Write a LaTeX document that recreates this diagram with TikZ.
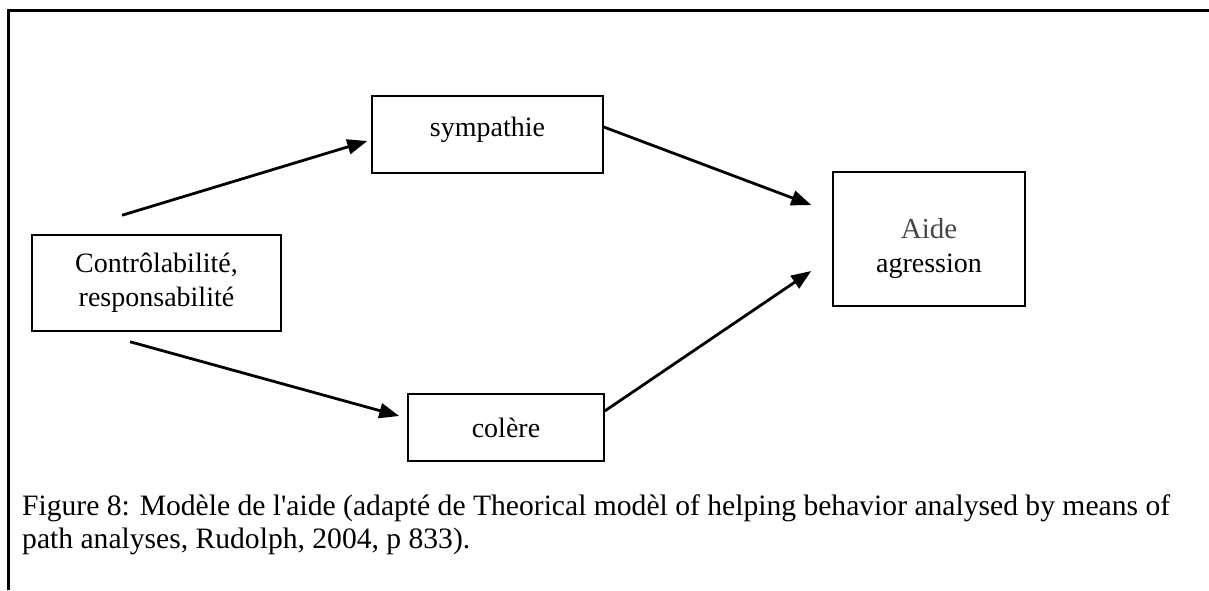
\documentclass[tikz,border=0pt]{standalone}
\usepackage{fontspec}
\setmainfont{Liberation Serif}
\usetikzlibrary{arrows.meta}
\definecolor{gristexte}{RGB}{70,70,70}
\tikzset{
  boite/.style={draw, line width=1.5pt, align=center, inner sep=0pt},
  fleche/.style={-{Triangle[length=20pt,width=15pt]}, line width=2.8pt},
}

\begin{document}
\begin{tikzpicture}[x=1pt, y=-1pt, font=\fontsize{28}{34}\selectfont]
    \useasboundingbox (0,0) rectangle (1209,590);
    \draw[line width=3pt] (8,590) -- (8,10) -- (1209,10);

    \node[boite, minimum width=249pt, minimum height=96pt]  (ctrl) at (156.5,283)   {Contr\^olabilit\'e,\\responsabilit\'e};
    \node[boite, minimum width=231pt, minimum height=77pt, text depth=16pt] (symp) at (487.5,134.5) {sympathie};
    \node[boite, minimum width=196pt, minimum height=67pt]  (col)  at (506,427.5)   {col\`ere};
    \node[boite, minimum width=192pt, minimum height=134pt] (aide) at (929,239)     {\rule{0pt}{40pt}{\color{gristexte}\fontsize{29}{34}\selectfont Aide}\\agression};

    \draw[fleche] ([xshift=-34.5pt,yshift=19pt]ctrl.north) -- ([xshift=-4pt,yshift=-6.5pt]symp.west);
    \draw[fleche] ([yshift=7.5pt]symp.east) -- ([xshift=-21pt,yshift=34pt]aide.west);
    \draw[fleche] ([xshift=-26.5pt,yshift=-10pt]ctrl.south) -- ([xshift=-8pt,yshift=11.5pt]col.west);
    \draw[fleche] ([yshift=16.5pt]col.east) -- ([xshift=-21pt,yshift=-32pt]aide.west);

    \node[anchor=north west, align=left, inner sep=0pt, font=\fontsize{29.6}{33}\selectfont] (legende) at (22,494)
      {Figure 8: Mod\`ele de l\textquotesingle aide (adapt\'e de Theorical mod\`el of helping behavior analysed by means of\\path analyses, Rudolph, 2004, p 833).};
\end{tikzpicture}
\end{document}
